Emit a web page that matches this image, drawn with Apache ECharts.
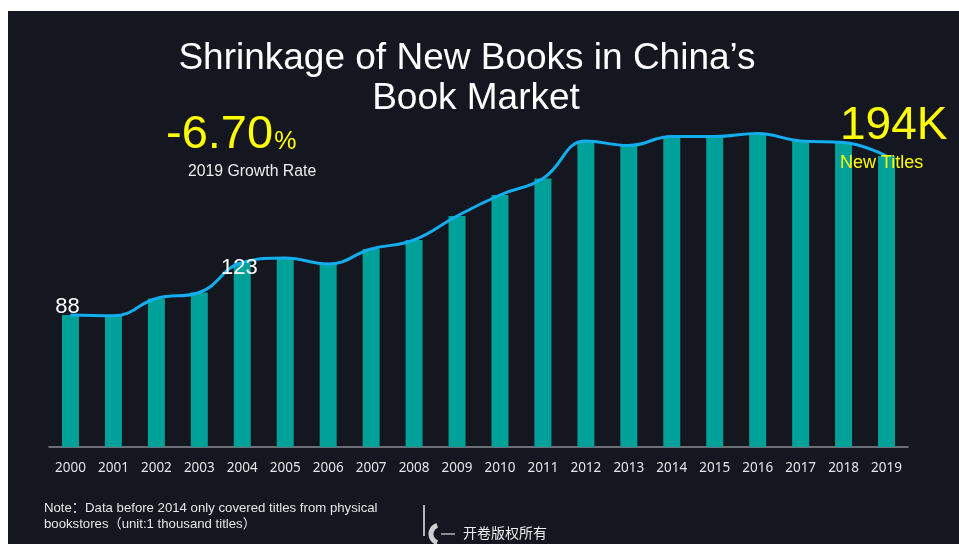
<!DOCTYPE html>
<html>
<head>
<meta charset="utf-8">
<script src="https://cdn.jsdelivr.net/npm/echarts@6/dist/echarts.min.js"></script>
<style>
  html, body { margin: 0; padding: 0; background: #ffffff; }
  #panel { position: absolute; left: 8px; top: 11px; width: 951px; height: 533px; background: #141620; }
  #chart { position: absolute; left: 0; top: 0; width: 959px; height: 544px; }
</style>
</head>
<body>
<div id="panel"></div>
<div id="chart"></div>
<script>
// New titles per year, thousands of titles
const years = ['2000','2001','2002','2003','2004','2005','2006','2007','2008','2009',
               '2010','2011','2012','2013','2014','2015','2016','2017','2018','2019'];
const newTitles = [88, 87.5, 99, 103, 123, 126, 122, 132, 138, 154,
                   168, 179, 204, 201, 207, 207, 209, 204, 203, 194];
// Years whose value is printed on the curve
const labelledYears = ['2000', '2004'];
const growthRate = '-6.70';

const chart = echarts.init(document.getElementById('chart'), null, { renderer: 'canvas' });

const lastValue = newTitles[newTitles.length - 1];
const sans = '"Liberation Sans", Arial, sans-serif';

const lineData = newTitles.map((v, i) => {
  const idx = labelledYears.indexOf(years[i]);
  if (idx < 0) return v;
  return {
    value: v,
    label: {
      show: true,
      position: 'top',
      distance: idx === 0 ? -3 : -16,
      offset: [-3, 0],
      color: '#ffffff',
      fontSize: 22,
      fontFamily: sans
    }
  };
});

const option = {
  backgroundColor: 'transparent',
  animation: false,
  grid: { left: 49, right: 51, top: 117, bottom: 97 },
  xAxis: {
    type: 'category',
    data: years,
    axisLine: { lineStyle: { color: '#8a8c93', width: 1.5 } },
    axisTick: { show: false },
    axisLabel: {
      color: '#e4e4e6',
      fontSize: 13.5,
      fontFamily: 'Noto Sans, DejaVu Sans, sans-serif',
      margin: 14
    }
  },
  yAxis: {
    type: 'value',
    min: 0,
    max: 220,
    show: false,
    splitLine: { show: false }
  },
  series: [
    {
      type: 'bar',
      data: newTitles,
      barWidth: 17,
      itemStyle: { color: '#00a198' },
      z: 2
    },
    {
      type: 'line',
      data: lineData,
      smooth: 0.45,
      showSymbol: true,
      symbol: 'circle',
      symbolSize: 0,
      lineStyle: { color: '#12aef0', width: 3 },
      label: { show: false },
      z: 3
    }
  ],
  graphic: [
    {
      type: 'text', x: 467, y: 59, z: 100,
      style: {
        text: 'Shrinkage of New Books in China\u2019s',
        fill: '#ffffff', font: '37px ' + sans,
        align: 'center', verticalAlign: 'middle'
      }
    },
    {
      type: 'text', x: 476, y: 99, z: 100,
      style: {
        text: 'Book Market',
        fill: '#ffffff', font: '37px ' + sans,
        align: 'center', verticalAlign: 'middle'
      }
    },
    {
      type: 'text', x: 166, y: 135, z: 100,
      style: {
        rich: {
          big: { fill: '#ffff00', fontSize: 47, fontFamily: sans },
          pct: { fill: '#ffff00', fontSize: 25, fontFamily: sans, padding: [14, 0, 0, 1] }
        },
        text: '{big|' + growthRate + '}{pct|%}',
        verticalAlign: 'middle'
      }
    },
    {
      type: 'text', x: 188, y: 172, z: 100,
      style: {
        text: '2019 Growth Rate', fill: '#ececec',
        font: '15.8px ' + sans, verticalAlign: 'middle'
      }
    },
    {
      type: 'text', x: 840, y: 126, z: 100,
      style: {
        text: Math.round(lastValue) + 'K', fill: '#ffff00',
        font: '46px ' + sans, verticalAlign: 'middle'
      }
    },
    {
      type: 'text', x: 840, y: 163, z: 100,
      style: {
        text: 'New Titles', fill: '#ffff00',
        font: '18px ' + sans, verticalAlign: 'middle'
      }
    },
    {
      type: 'text', x: 44, y: 500, z: 100,
      style: {
        text: 'Note\uff1aData before 2014 only covered titles from physical\nbookstores\uff08unit:1 thousand titles\uff09',
        fill: '#e6e6e6',
        font: '13.2px "Liberation Sans", Arial, "Noto Sans CJK SC", sans-serif',
        lineHeight: 16
      }
    },
    // publisher mark
    {
      type: 'line', z: 100, shape: { x1: 424, y1: 505, x2: 424, y2: 536 },
      style: { stroke: '#e8e8e8', lineWidth: 1.5 }
    },
    {
      type: 'arc', z: 100, shape: { cx: 440, cy: 534, r: 9, startAngle: Math.PI * 0.6, endAngle: Math.PI * 1.4 },
      style: { stroke: '#cfcfcf', lineWidth: 5, fill: 'none' }
    },
    {
      type: 'line', z: 100, shape: { x1: 441, y1: 534, x2: 455, y2: 534 },
      style: { stroke: '#dcdcdc', lineWidth: 1.2 }
    },
    {
      type: 'text', x: 463, y: 533, z: 100,
      style: {
        text: '\u5f00\u5377\u7248\u6743\u6240\u6709', fill: '#ececec',
        font: '14px "Noto Sans CJK SC", sans-serif', verticalAlign: 'middle'
      }
    }
  ]
};

chart.setOption(option);
</script>
</body>
</html>
